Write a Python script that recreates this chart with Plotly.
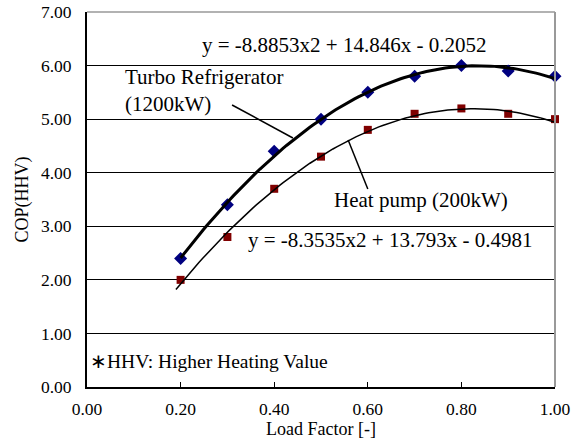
import numpy as np
import plotly.graph_objects as go

load_factor = [0.2, 0.3, 0.4, 0.5, 0.6, 0.7, 0.8, 0.9, 1.0]
turbo_cop = [2.4, 3.4, 4.4, 5.0, 5.5, 5.8, 6.0, 5.9, 5.8]
heatpump_cop = [2.0, 2.8, 3.7, 4.3, 4.8, 5.1, 5.2, 5.1, 5.0]

turbo_coef = [-8.8853, 14.846, -0.2052]
heatpump_coef = [-8.3535, 13.793, -0.4981]
turbo_range = [0.2, 1.0]
heatpump_range = [0.19, 1.0]

x_ticks = [0.0, 0.2, 0.4, 0.6, 0.8, 1.0]
y_ticks = [0, 1, 2, 3, 4, 5, 6, 7]

FONT = "Liberation Serif"

fig = go.Figure()
fig.add_trace(go.Scatter(x=load_factor, y=turbo_cop, mode="markers",
                         marker=dict(symbol="diamond", color="#000080", size=10),
                         showlegend=False, cliponaxis=False))
fig.add_trace(go.Scatter(x=load_factor, y=heatpump_cop, mode="markers",
                         marker=dict(symbol="square", color="#800000", size=8),
                         showlegend=False, cliponaxis=False))

xt = np.linspace(turbo_range[0], turbo_range[1], 100)
fig.add_trace(go.Scatter(x=xt, y=np.polyval(turbo_coef, xt), mode="lines",
                         line=dict(color="black", width=3), showlegend=False))
xh = np.linspace(heatpump_range[0], heatpump_range[1], 100)
fig.add_trace(go.Scatter(x=xh, y=np.polyval(heatpump_coef, xh), mode="lines",
                         line=dict(color="black", width=1.5), showlegend=False))

def eq_text(c):
    a, b, k = c
    s = "-" if k < 0 else "+"
    return f"y = {a}x2 + {b}x {s} {abs(k)}"

annots = [
    dict(x=0.549, y=6.384, text=eq_text(turbo_coef), xanchor="center", size=21),
    dict(x=0.076, y=5.535, text="Turbo Refrigerator<br>(1200kW)", xanchor="left", size=21),
    dict(x=0.714, y=3.49, text="Heat pump (200kW)", xanchor="center", size=21),
    dict(x=0.648, y=2.744, text=eq_text(heatpump_coef), xanchor="center", size=21),
    dict(x=0.002, y=0.485, text="∗HHV: Higher Heating Value", xanchor="left", size=19.5),
]
for a in annots:
    fig.add_annotation(x=a["x"], y=a["y"], text=a["text"], xanchor=a["xanchor"],
                       yanchor="middle", showarrow=False, align="left",
                       font=dict(family=FONT, size=a["size"], color="black"))

# pointer lines
fig.add_shape(type="line", x0=0.310, y0=5.264, x1=0.440, y1=4.648,
              line=dict(color="black", width=1.5))
fig.add_shape(type="line", x0=0.558, y0=4.611, x1=0.600, y1=3.696,
              line=dict(color="black", width=1.5))
# grey top/right border
fig.add_shape(type="line", xref="paper", yref="paper", x0=0, y0=1, x1=1, y1=1,
              line=dict(color="#999999", width=1.5))
fig.add_shape(type="line", xref="paper", yref="paper", x0=1, y0=0, x1=1, y1=1,
              line=dict(color="#999999", width=2))

fig.update_layout(
    width=574, height=439,
    margin=dict(l=87, r=19, t=12, b=52, autoexpand=False),
    paper_bgcolor="white", plot_bgcolor="white",
    font=dict(family=FONT, size=17, color="black"),
    xaxis=dict(range=[0, 1], tickvals=x_ticks, ticktext=[f"{v:.2f}" for v in x_ticks],
               showgrid=False, zeroline=False, showline=True, linecolor="black",
               linewidth=2, ticks="inside", ticklen=5, tickcolor="black",
               tickfont=dict(family=FONT, size=17.5), automargin=False, ticklabelstandoff=5,
               title=dict(text="Load Factor [-]", font=dict(family=FONT, size=18), standoff=0)),
    yaxis=dict(range=[0, 7], tickvals=y_ticks, ticktext=[f"{v:.2f}" for v in y_ticks],
               showgrid=True, gridcolor="black", gridwidth=1, zeroline=False,
               showline=True, linecolor="black", linewidth=2, ticks="",
               tickfont=dict(family=FONT, size=17.5), ticklabelstandoff=10, automargin=False,
               title=dict(text="COP(HHV)", font=dict(family=FONT, size=18), standoff=8)),
)

fig.write_html("out.html")
